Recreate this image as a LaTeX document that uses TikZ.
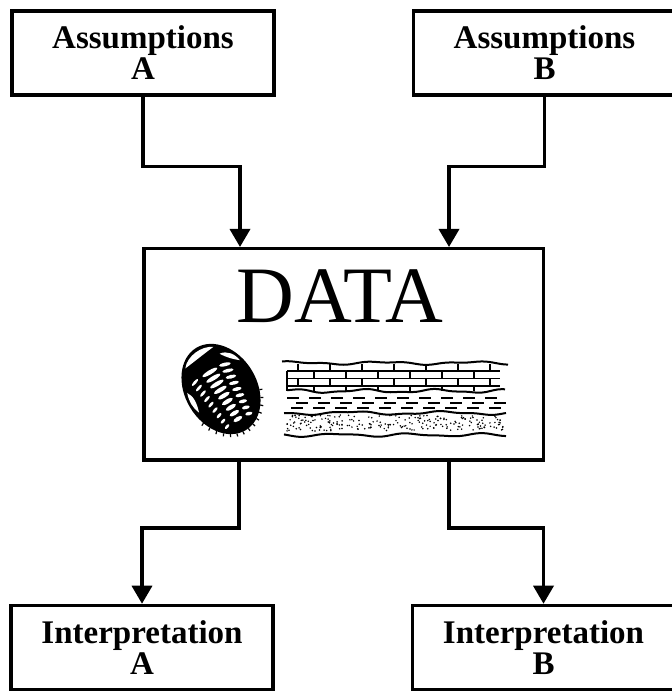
\documentclass[tikz,border=0pt]{standalone}
\usepackage{fontspec}
\setmainfont{Liberation Serif}
\usetikzlibrary{positioning,arrows.meta,calc}

\begin{document}
\begin{tikzpicture}[x=1pt, y=1pt, node distance=136pt]
				\tikzstyle{block} = [rectangle, draw=black, line width=3.5pt, align=center, minimum width=262pt, minimum height=84pt, inner sep=0pt, font=\bfseries\fontsize{33}{31}\selectfont];
				\tikzstyle{flow} = [draw=black, line width=3.5pt, -{Triangle[length=18pt,width=20pt]}];
				\tikzstyle{layer} = [line width=2pt];
				\tikzstyle{joint} = [line width=1.1pt];
				
				\useasboundingbox (0,0) rectangle (671,692);
				
				\node[block](assumA) at (143,639){Assumptions \\ A};
				\node[block, right = of assumA](assumB){Assumptions \\ B};
				\node[block, minimum width=399.5pt, minimum height=211.5pt](data) at (343.5,337.5){};
				\node[block](interpA) at (142,44.5){Interpretation \\ A};
				\node[block, right = of interpA](interpB){Interpretation \\ B};
				\node[anchor=base, font=\fontsize{80}{80}\selectfont, inner sep=0pt](datatext) at (340,369){DATA};
				
				\coordinate (inA) at ([xshift=-103.5pt]data.north);
				\coordinate (inB) at ([xshift=105.5pt]data.north);
				\coordinate (outA) at ([xshift=-104.5pt]data.south);
				\coordinate (outB) at ([xshift=105.5pt]data.south);
				
				\path[flow] (assumA.south) -- ++(0,-70) -| (inA);
				\path[flow] (assumB.south) -- ++(0,-70) -| (inB);
				\path[flow] (outA) -- ++(0,-66) -| (interpA.north);
				\path[flow] (outB) -- ++(0,-66) -| (interpB.north);
				
				% trilobite
				\begin{scope}[shift={(221,303)}, rotate=31]
					\fill[black] (0,0) ellipse [x radius=36, y radius=48];
					\foreach \a in {205,215,...,335}
						\draw[line width=1.2pt] ({36*cos(\a)},{48*sin(\a)}) -- ({39*cos(\a)},{51*sin(\a)});
					\fill[white] (-20,36) .. controls (-12,46) and (6,47) .. (15,40) .. controls (4,39) and (-10,37) .. (-20,36);
					\fill[white] (17,31) .. controls (25,30) and (30,23) .. (31,15) .. controls (26,19) and (21,24) .. (17,31);
					\fill[white] (-31,14) .. controls (-34,6) and (-34,-2) .. (-31,-9) .. controls (-28,0) and (-27,8) .. (-31,14);
					\foreach \k in {0,...,8} {
						\fill[white] (-1,{20-6.8*\k}) ellipse [x radius={8.5-0.45*\k}, y radius=2.1];
						\fill[white, rotate around={-18:({16-0.6*\k},{19-6.8*\k})}] ({16-0.6*\k},{19-6.8*\k}) ellipse [x radius={6-0.3*\k}, y radius=1.8];
						\fill[white, rotate around={18:({-19+0.6*\k},{19-6.8*\k})}] ({-19+0.6*\k},{19-6.8*\k}) ellipse [x radius={4.5-0.2*\k}, y radius=1.4];
					}
				\end{scope}
				
				% rock layers
				\draw[layer] plot[domain=282:508, samples=60, smooth] (\x, {329+1.2*sin(4*\x)+0.7*sin(9*\x+40)});
				\draw[layer] plot[domain=287:505, samples=60, smooth] (\x, {301+1.5*sin(5*\x+70)+0.6*sin(11*\x)});
				\draw[layer] plot[domain=284:506, samples=60, smooth] (\x, {279+1.4*sin(4*\x+120)+0.6*sin(10*\x+20)});
				\draw[layer] plot[domain=284:506, samples=60, smooth] (\x, {257+1.3*sin(5*\x+200)+0.6*sin(9*\x+80)});
				\foreach \y in {321,313.5,306}
					\draw[joint] (287,\y) -- (500,\y);
				\draw[joint] (287,301) -- (287,321);
				\foreach \x in {298,330,...,490}
					\draw[joint] (\x,321) -- (\x,328);
				\foreach \x in {314,346,...,490}
					\draw[joint] (\x,313.5) -- (\x,321);
				\foreach \x in {298,330,...,490}
					\draw[joint] (\x,306) -- (\x,313.5);
				\foreach \x in {314,346,...,490}
					\draw[joint] (\x,301) -- (\x,306);
				\foreach \y/\s in {294/0, 289/9, 284/4}
					\foreach \x in {0,22,...,198}
						\draw[joint] ({287+\x+\s},\y) -- ++(12,0);
				\pgfmathsetseed{42}
				\foreach \i in {1,...,230}
					\fill ({284+222*rnd},{261+16*rnd}) circle (0.85);
			\end{tikzpicture}
\end{document}
